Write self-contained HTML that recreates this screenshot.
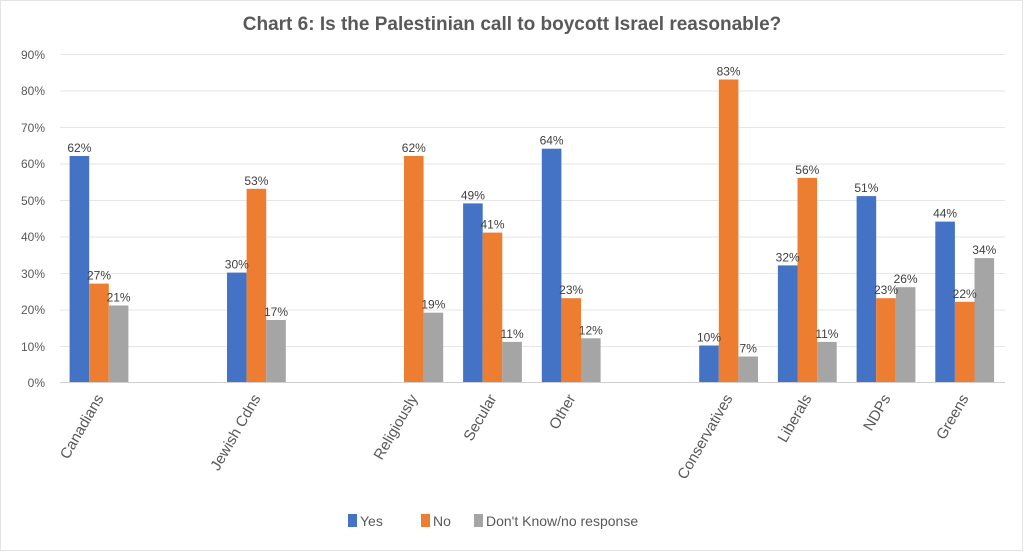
<!DOCTYPE html>
<html><head><style>
body{margin:0;background:#fff;}
svg text{font-family:"Liberation Sans",sans-serif;}
</style></head><body>
<svg width="1024" height="552" xmlns="http://www.w3.org/2000/svg">
<rect x="0.5" y="0.5" width="1022" height="550" fill="#fff" stroke="#e3e3e3"/>
<text x="512" y="30" text-anchor="middle" font-size="19" font-weight="bold" fill="#595959">Chart 6: Is the Palestinian call to boycott Israel reasonable?</text>
<g stroke="#e6e6e6" stroke-width="1">
<line x1="60" x2="1005" y1="346.5" y2="346.5"/>
<line x1="60" x2="1005" y1="310" y2="310"/>
<line x1="60" x2="1005" y1="273.5" y2="273.5"/>
<line x1="60" x2="1005" y1="237" y2="237"/>
<line x1="60" x2="1005" y1="200.5" y2="200.5"/>
<line x1="60" x2="1005" y1="164" y2="164"/>
<line x1="60" x2="1005" y1="127.5" y2="127.5"/>
<line x1="60" x2="1005" y1="91" y2="91"/>
<line x1="60" x2="1005" y1="54.5" y2="54.5"/>
</g>
<g font-size="12" fill="#595959" text-anchor="end">
<text x="45" y="387">0%</text><text x="45" y="351">10%</text><text x="45" y="314">20%</text><text x="45" y="278">30%</text><text x="45" y="241">40%</text><text x="45" y="205">50%</text><text x="45" y="168">60%</text><text x="45" y="132">70%</text><text x="45" y="95">80%</text><text x="45" y="59">90%</text>
</g>
<g>
<rect x="69.6" y="156" width="19.6" height="226" fill="#4472c4"/>
<rect x="89.2" y="283.6" width="19.6" height="98.4" fill="#ed7d31"/>
<rect x="108.8" y="305.5" width="19.6" height="76.5" fill="#a5a5a5"/>
<rect x="227" y="272.6" width="19.6" height="109.4" fill="#4472c4"/>
<rect x="246.6" y="188.8" width="19.6" height="193.2" fill="#ed7d31"/>
<rect x="266.2" y="320" width="19.6" height="62" fill="#a5a5a5"/>
<rect x="404" y="156" width="19.6" height="226" fill="#ed7d31"/>
<rect x="423.6" y="312.7" width="19.6" height="69.3" fill="#a5a5a5"/>
<rect x="463.1" y="203.4" width="19.6" height="178.6" fill="#4472c4"/>
<rect x="482.7" y="232.6" width="19.6" height="149.4" fill="#ed7d31"/>
<rect x="502.3" y="341.9" width="19.6" height="40.1" fill="#a5a5a5"/>
<rect x="541.8" y="148.7" width="19.6" height="233.3" fill="#4472c4"/>
<rect x="561.4" y="298.2" width="19.6" height="83.8" fill="#ed7d31"/>
<rect x="581" y="338.3" width="19.6" height="43.7" fill="#a5a5a5"/>
<rect x="699.2" y="345.5" width="19.6" height="36.5" fill="#4472c4"/>
<rect x="718.8" y="79.5" width="19.6" height="302.5" fill="#ed7d31"/>
<rect x="738.4" y="356.5" width="19.6" height="25.5" fill="#a5a5a5"/>
<rect x="777.9" y="265.4" width="19.6" height="116.6" fill="#4472c4"/>
<rect x="797.5" y="177.9" width="19.6" height="204.1" fill="#ed7d31"/>
<rect x="817.1" y="341.9" width="19.6" height="40.1" fill="#a5a5a5"/>
<rect x="856.6" y="196.1" width="19.6" height="185.9" fill="#4472c4"/>
<rect x="876.2" y="298.2" width="19.6" height="83.8" fill="#ed7d31"/>
<rect x="895.8" y="287.2" width="19.6" height="94.8" fill="#a5a5a5"/>
<rect x="935.3" y="221.6" width="19.6" height="160.4" fill="#4472c4"/>
<rect x="954.9" y="301.8" width="19.6" height="80.2" fill="#ed7d31"/>
<rect x="974.5" y="258.1" width="19.6" height="123.9" fill="#a5a5a5"/>
</g>
<line x1="60" x2="1005" y1="382.5" y2="382.5" stroke="#d0d0d0"/>
<g font-size="12" fill="#404040" text-anchor="middle">
<text x="79.4" y="152">62%</text><text x="99" y="279.6">27%</text><text x="118.6" y="301.5">21%</text>
<text x="236.8" y="268.6">30%</text><text x="256.4" y="184.8">53%</text><text x="276" y="316">17%</text>
<text x="413.8" y="152">62%</text><text x="433.4" y="308.7">19%</text>
<text x="472.9" y="199.4">49%</text><text x="492.5" y="228.6">41%</text><text x="512.1" y="337.9">11%</text>
<text x="551.6" y="144.7">64%</text><text x="571.2" y="294.2">23%</text><text x="590.8" y="334.3">12%</text>
<text x="709" y="341.5">10%</text><text x="728.6" y="75.5">83%</text><text x="748.2" y="352.5">7%</text>
<text x="787.7" y="261.4">32%</text><text x="807.3" y="173.9">56%</text><text x="826.9" y="337.9">11%</text>
<text x="866.4" y="192.1">51%</text><text x="886" y="294.2">23%</text><text x="905.6" y="283.2">26%</text>
<text x="945.1" y="217.6">44%</text><text x="964.7" y="297.8">22%</text><text x="984.3" y="254.1">34%</text>
</g>
<g font-size="15" fill="#595959">
<text transform="translate(104,398) rotate(-60)" text-anchor="end">Canadians</text>
<text transform="translate(261,398) rotate(-60)" text-anchor="end">Jewish Cdns</text>
<text transform="translate(418,398) rotate(-60)" text-anchor="end">Religiously</text>
<text transform="translate(497,398) rotate(-60)" text-anchor="end">Secular</text>
<text transform="translate(576,398) rotate(-60)" text-anchor="end">Other</text>
<text transform="translate(733,398) rotate(-60)" text-anchor="end">Conservatives</text>
<text transform="translate(812,398) rotate(-60)" text-anchor="end">Liberals</text>
<text transform="translate(891,398) rotate(-60)" text-anchor="end">NDPs</text>
<text transform="translate(969,398) rotate(-60)" text-anchor="end">Greens</text>
</g>
<g font-size="14" fill="#595959">
<rect x="348" y="514" width="9" height="13" fill="#4472c4"/><text x="360" y="526">Yes</text>
<rect x="421" y="514" width="9" height="13" fill="#ed7d31"/><text x="433" y="526">No</text>
<rect x="474" y="514" width="9" height="13" fill="#a5a5a5"/><text x="486" y="526">Don't Know/no response</text>
</g>
</svg>
</body></html>
